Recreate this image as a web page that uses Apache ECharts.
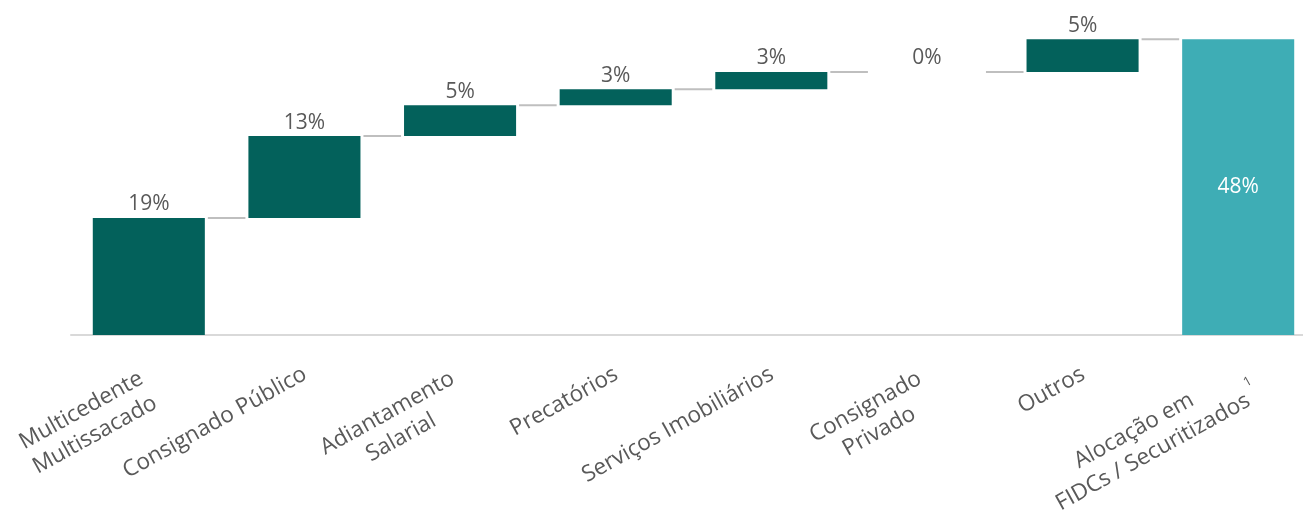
<!DOCTYPE html>
<html>
<head>
<meta charset="utf-8">
<script src="https://cdn.jsdelivr.net/npm/echarts@6/dist/echarts.min.js"></script>
<style>
  html, body { margin: 0; padding: 0; background: #fff; }
  #chart { width: 1303px; height: 515px; }
</style>
</head>
<body>
<div id="chart"></div>
<script>
// categorias e valores (em %)
const categories = [
  'Multicedente\nMultissacado',
  'Consignado Público',
  'Adiantamento\nSalarial',
  'Precatórios',
  'Serviços Imobiliários',
  'Consignado\nPrivado',
  'Outros',
  'Alocação em\nFIDCs / Securitizados'
];
const steps = [19, 13.3, 5, 2.6, 2.8, 0, 5.3];
const total = 48;

const DARK = '#03615B';
const LIGHT = '#3EADB5';
const TEXT = '#595959';
const FONT = '"Open Sans", sans-serif';

// base invisível + níveis acumulados
const bases = [];
const levels = [];
let acc = 0;
steps.forEach((v) => {
  bases.push(acc);
  acc += v;
  levels.push(acc);
});
bases.push(0);

const barValues = steps.map((v) => v).concat([
  { value: total, itemStyle: { color: LIGHT }, label: { position: 'inside', color: '#fff' } }
]);

// conectores entre barras
const connectorData = levels.map((lvl, i) => [i, lvl]);

const labelBase = { align: 'center', fontSize: 22.5, lineHeight: 28, color: TEXT, fontFamily: FONT };

const chart = echarts.init(document.getElementById('chart'));

chart.setOption({
  animation: false,
  backgroundColor: '#fff',
  grid: {
    left: 71, right: -13, top: 27, bottom: 180,
    containLabel: false,
    outerBoundsMode: 'none'
  },
  xAxis: {
    type: 'category',
    data: categories,
    axisLine: { lineStyle: { color: '#D9D9D9', width: 2 } },
    axisTick: { show: false },
    axisLabel: {
      interval: 0,
      rotate: 29,
      margin: 22,
      align: 'right',
      verticalAlign: 'top',
      hideOverlap: false,
      formatter: (val) => {
        const parts = val.split('\n');
        if (val.indexOf('Securitizados') >= 0) {
          return '{a3|' + parts[0] + '}\n{a0|' + parts[1] + '}{sup|1}';
        }
        const key = parts.length > 1 ? 'a2' : 'a1';
        return parts.map((l) => '{' + key + '|' + l + '}').join('\n');
      },
      rich: {
        a0: labelBase,
        a1: Object.assign({}, labelBase, { padding: [0, 7, 0, 0] }),
        a2: Object.assign({}, labelBase, { padding: [0, 16, 0, 0] }),
        a3: Object.assign({}, labelBase, { padding: [0, 24, 0, 0] }),
        sup: {
          align: 'center', fontSize: 13, lineHeight: 1, color: TEXT, fontFamily: FONT,
          verticalAlign: 'bottom', padding: [0, 0, 23, 4]
        }
      }
    }
  },
  yAxis: {
    type: 'value',
    min: 0,
    max: 50,
    show: false,
    splitLine: { show: false }
  },
  series: [
    {
      type: 'bar',
      stack: 'w',
      barWidth: '72%',
      itemStyle: { color: 'transparent' },
      emphasis: { disabled: true },
      data: bases
    },
    {
      type: 'bar',
      stack: 'w',
      barWidth: '72%',
      itemStyle: { color: DARK },
      label: {
        show: true,
        position: 'top',
        distance: 3,
        color: TEXT,
        fontSize: 21,
        fontFamily: FONT,
        formatter: (p) => Math.round(p.value) + '%'
      },
      data: barValues
    },
    {
      type: 'custom',
      data: connectorData,
      z: 1,
      renderItem: (params, api) => {
        const p = api.coord([api.value(0), api.value(1)]);
        const band = api.size([1, 0])[0];
        const half = band * 0.36;
        return {
          type: 'line',
          shape: { x1: p[0] + half + 3, y1: p[1], x2: p[0] + band - half - 3, y2: p[1] },
          style: { stroke: '#BFBFBF', lineWidth: 2 }
        };
      }
    }
  ]
});
</script>
</body>
</html>
